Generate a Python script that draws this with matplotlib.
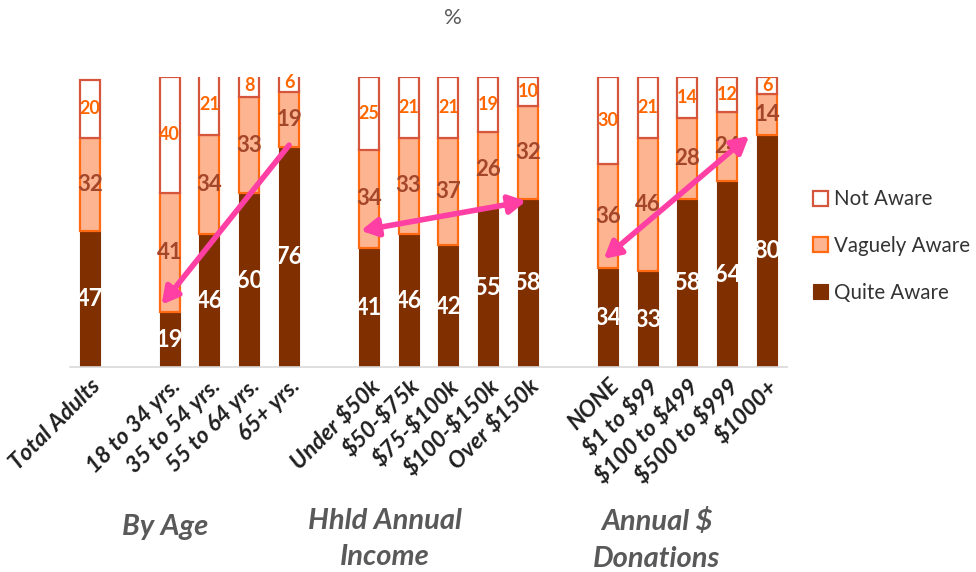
import matplotlib
matplotlib.use("Agg")
import matplotlib.pyplot as plt
import numpy as np

plt.rcParams['font.family'] = ['Lato', 'DejaVu Sans']
plt.rcParams['text.parse_math'] = False

# Categories, with blank slots separating the groups
categories = ["Total Adults", "", "18 to 34 yrs.", "35 to 54 yrs.", "55 to 64 yrs.", "65+ yrs.", "",
              "Under $50k", "$50-$75k", "$75-$100k", "$100-$150k", "Over $150k", "",
              "NONE", "$1 to $99", "$100 to $499", "$500 to $999", "$1000+"]
quite_aware = [47, None, 19, 46, 60, 76, None, 41, 46, 42, 55, 58, None, 34, 33, 58, 64, 80]
vaguely_aware = [32, None, 41, 34, 33, 19, None, 34, 33, 37, 26, 32, None, 36, 46, 28, 24, 14]
not_aware = [20, None, 40, 21, 8, 6, None, 25, 21, 21, 19, 10, None, 30, 21, 14, 12, 6]
group_titles = ["By Age", "Hhld Annual\nIncome", "Annual $\nDonations"]

# Trend arrows (start category index, start value, end index, end value, double-headed)
arrows = [
    (5, 76.5, 1.8, 21.5, False),
    (6.8, 47.0, 10.95, 57.2, True),
    (12.9, 37.3, 16.55, 79.7, True),
]

C_QUITE = "#7F2F00"
C_VAGUE = "#FDB591"
E_VAGUE = "#FF6A13"
E_NOT = "#D5563C"
T_VAGUE = "#A4462A"
T_NOT = "#FF6600"
C_ARROW = "#FF3FA4"

fig = plt.figure(figsize=(9.76, 5.72), dpi=100)
ax = fig.add_axes([70 / 976, 1 - 367 / 572, (787 - 70) / 976, (367 - 77) / 572])

x = np.arange(len(categories))
idx = [i for i, q in enumerate(quite_aware) if q is not None]
q = np.array([quite_aware[i] for i in idx], float)
v = np.array([vaguely_aware[i] for i in idx], float)
n = np.array([not_aware[i] for i in idx], float)
xs = x[idx]
w = 0.5

ax.bar(xs, q, w, color=C_QUITE, edgecolor=C_QUITE, linewidth=0.8, label="Quite Aware", zorder=2)
ax.bar(xs, v, w, bottom=q, color=C_VAGUE, edgecolor=E_VAGUE, linewidth=1.6, label="Vaguely Aware", zorder=2)
ax.bar(xs, n, w, bottom=q + v, color="white", edgecolor=E_NOT, linewidth=1.6, label="Not Aware", zorder=2)

for xi, a, b, c in zip(xs, q, v, n):
    ax.text(xi, a / 2, f"{a:.0f}", ha="center", va="center", color="white",
            fontsize=17, fontweight="bold", zorder=3)
    ax.text(xi, a + b / 2, f"{b:.0f}", ha="center", va="center", color=T_VAGUE,
            fontsize=16, fontweight="bold", zorder=3)
    ax.text(xi, a + b + c / 2, f"{c:.0f}", ha="center", va="center", color=T_NOT,
            fontsize=13, fontweight="bold", zorder=3)

for x0, y0, x1, y1, both in arrows:
    style = "<|-|>" if both else "-|>"
    ax.annotate("", xy=(x1, y1), xytext=(x0, y0),
                arrowprops=dict(arrowstyle=style + ",head_length=1.0,head_width=0.55",
                                color=C_ARROW, lw=4, shrinkA=0, shrinkB=0), zorder=5)

ax.set_xlim(-0.5, 17.5)
ax.set_ylim(0, 100)
ax.set_xticks(xs)
ax.set_xticklabels([categories[i] for i in idx], rotation=45, ha="right",
                   rotation_mode="anchor", fontsize=16.5, fontweight="bold",
                   fontstyle="italic", color="#1F1F1F")
ax.tick_params(axis="x", length=0, pad=6)
ax.set_yticks([])
for s in ["left", "right", "top"]:
    ax.spines[s].set_visible(False)
ax.spines["bottom"].set_color("#D9D9D9")
ax.spines["bottom"].set_linewidth(1.2)

fig.text(453 / 976, 1 - 18 / 572, "%", ha="center", va="center", fontsize=16, color="#595959")

for tx, ty, t in zip([165, 385, 657], [527, 539, 540], group_titles):
    fig.text(tx / 976, 1 - ty / 572, t, ha="center", va="center", fontsize=21,
             fontweight="bold", fontstyle="italic", color="#595959", linespacing=1.5)

handles, labels = ax.get_legend_handles_labels()
leg = fig.legend(handles[::-1], labels[::-1], loc="center left",
                 bbox_to_anchor=(794 / 976, 1 - 246 / 572), frameon=False,
                 fontsize=14.8, labelspacing=1.3, handlelength=0.75, handleheight=0.75,
                 handletextpad=0.3, labelcolor="#333333")

fig.savefig("out.png", dpi=100)
